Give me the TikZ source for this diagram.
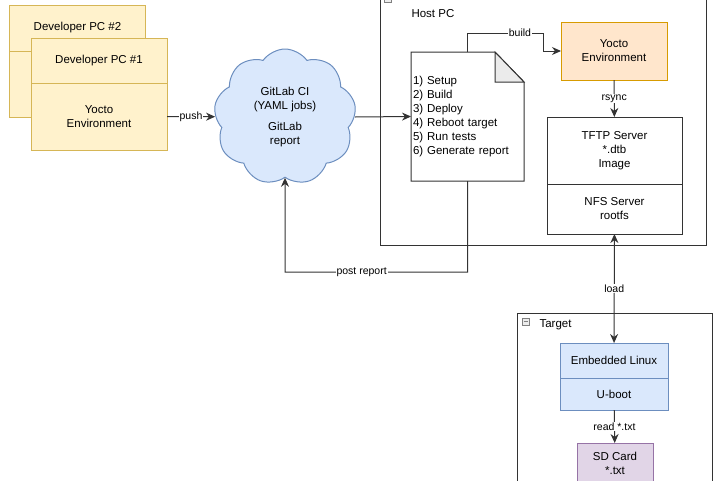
\documentclass[tikz,border=0pt]{standalone}
\usepackage{fontspec}
\setmainfont{Liberation Sans}
\usetikzlibrary{positioning, arrows.meta, shapes.symbols, calc}
\definecolor{ink}{HTML}{333333}
\definecolor{devbg}{HTML}{FFF2CC}
\definecolor{devln}{HTML}{D6B656}
\definecolor{yoctobg}{HTML}{FFE6CC}
\definecolor{yoctoln}{HTML}{D79B00}
\definecolor{bluebg}{HTML}{DAE8FC}
\definecolor{blueln}{HTML}{6C8EBF}
\definecolor{lilacbg}{HTML}{E1D5E7}
\definecolor{lilacln}{HTML}{9673A6}
\definecolor{foldbg}{HTML}{EBEBEB}
\tikzset{
  >={Stealth[length=9pt, width=8pt]},
  blok/.style={draw=ink, line width=1pt, align=center, outer sep=0pt,
               inner sep=2pt, font=\fontsize{11.5}{14}\selectfont},
  devblok/.style={blok, draw=devln, fill=devbg, minimum width=136pt},
  grp/.style={draw=ink, line width=1pt, outer sep=0pt, inner sep=0pt},
  minbox/.style={draw=gray, fill=gray!15, minimum size=7pt, inner sep=0pt,
                 path picture={\draw[gray] ([xshift=1.5pt]path picture bounding box.west)
                   -- ([xshift=-1.5pt]path picture bounding box.east);}},
  flow/.style={->, line width=1pt, draw=ink},
  flowboth/.style={<->, line width=1pt, draw=ink},
  lbl/.style={fill=white, inner sep=1pt, font=\fontsize{10.5}{12}\selectfont},
}
\begin{document}
\begin{tikzpicture}[x=1pt, y=-1pt]
  \useasboundingbox (0,0) rectangle (720,480);
  % developer PCs
  \node[devblok, minimum height=46pt] (dev2) at (77.5,28) {Developer PC \#2};
  \node[devblok, minimum height=66pt, below=0pt of dev2] (dev2env) {};
  \node[devblok, minimum height=45pt] (dev1) at (99,60.5) {Developer PC \#1};
  \node[devblok, minimum height=67pt, below=0pt of dev1] (dev1env) {Yocto\\Environment};
  % CI server
  \node[cloud, cloud puffs=9, cloud puff arc=110, cloud ignores aspect, draw=blueln,
        fill=bluebg, line width=1pt, minimum width=142pt, minimum height=136pt,
        inner sep=0pt, align=center, font=\fontsize{11.5}{14}\selectfont] (gitlab)
        at (285,117) {GitLab CI\\(YAML jobs)\\[7pt]GitLab\\report};
  % host PC
  \node[grp, minimum width=326pt, minimum height=255pt] (host) at (543,117.5) {};
  \node[minbox] (hosticon) at (388,-1) {};
  \node[anchor=west, font=\fontsize{11.5}{14}\selectfont] (hostlbl) at (408,14) {Host PC};
  \node[align=left, text width=109pt, minimum height=129pt, inner sep=2pt, outer sep=0pt,
        font=\fontsize{11.5}{14}\selectfont] (doc) at (467.5,116.5)
        {1) Setup\\2) Build\\3) Deploy\\4) Reboot target\\5) Run tests\\6) Generate report};
  \draw[ink, line width=1pt] (doc.south west) |- ($(doc.north east)+(-29,0)$)
        -- ($(doc.north east)+(0,30)$) -- (doc.south east) -- cycle;
  \filldraw[ink, fill=foldbg, line width=1pt] ($(doc.north east)+(-29,0)$) -- ++(0,30) -- ++(29,0) -- cycle;
  \node[blok, draw=yoctoln, fill=yoctobg, minimum width=106pt, minimum height=58pt] (yocto)
        at (614,51) {Yocto\\Environment};
  \node[blok, minimum width=135pt, minimum height=67pt] (tftp) at (614.5,150.5) {TFTP Server\\*.dtb\\Image};
  \node[blok, minimum width=135pt, minimum height=50pt, below=0pt of tftp] (nfs) {NFS Server\\rootfs};
  % target board
  \node[grp, minimum width=195pt, minimum height=180pt] (target) at (614.5,403) {};
  \node[minbox] (targeticon) at (525.5,321.5) {};
  \node[anchor=west, font=\fontsize{11.5}{14}\selectfont] (targetlbl) at (536,325) {Target};
  \node[blok, draw=blueln, fill=bluebg, minimum width=108pt, minimum height=35pt] (linux)
        at (614,360.5) {Embedded Linux};
  \node[blok, draw=blueln, fill=bluebg, minimum width=108pt, minimum height=32pt,
        below=0pt of linux] (uboot) {U-boot};
  \node[blok, draw=lilacln, fill=lilacbg, minimum width=76pt, minimum height=40pt] (sd)
        at (615,463) {SD Card\\*.txt};
  % connectors
  \coordinate (postturn) at (285,272);
  \draw[flow] (dev1env.east) -- node[lbl]{push} (gitlab);
  \draw[flow] (gitlab.east) -- (doc.west);
  \draw[flow] (doc.north) -- ++(0,-19) -- node[lbl, pos=0.69]{build} ++(76,0) |- (yocto.west);
  \draw[flow] (yocto) -- node[lbl]{rsync} (tftp);
  \draw[flow] (doc.south) |- node[lbl, pos=0.79]{post report} (postturn) -- (gitlab.south);
  \draw[flowboth] (nfs) -- node[lbl]{load} (linux);
  \draw[flow] (uboot) -- node[lbl]{read *.txt} (sd);
\end{tikzpicture}
\end{document}
